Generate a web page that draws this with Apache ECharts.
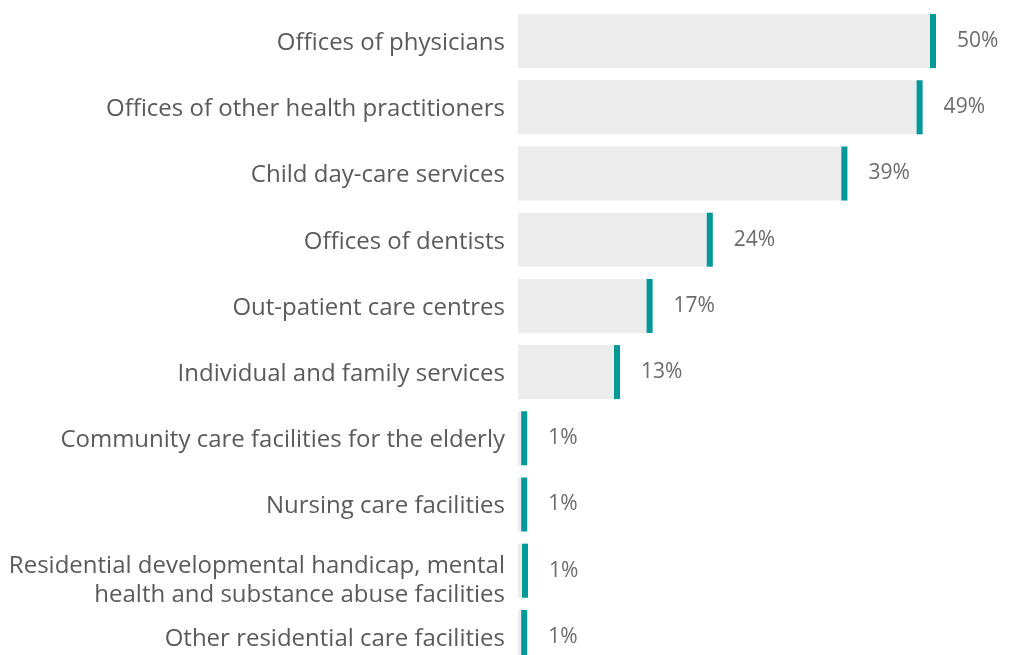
<!DOCTYPE html>
<html>
<head>
<meta charset="utf-8">
<script src="https://cdn.jsdelivr.net/npm/echarts@6/dist/echarts.min.js"></script>
<style>
  html, body { margin: 0; padding: 0; background: #fff; }
  #chart { width: 1010px; height: 655px; }
</style>
</head>
<body>
<div id="chart"></div>
<script>
// categories, top to bottom
const categories = [
  "Offices of physicians",
  "Offices of other health practitioners",
  "Child day-care services",
  "Offices of dentists",
  "Out-patient care centres",
  "Individual and family services",
  "Community care facilities for the elderly",
  "Nursing care facilities",
  "Residential developmental handicap, mental\nhealth and substance abuse facilities",
  "Other residential care facilities"
];
// bar lengths (%)
const values = [50, 48.4, 39.4, 23.3, 16.1, 12.2, 1.1, 1.1, 1.2, 1.1];
// printed labels
const valueLabels = ["50%", "49%", "39%", "24%", "17%", "13%", "1%", "1%", "1%", "1%"];

const myChart = echarts.init(document.getElementById("chart"));

const catText = {
  fontFamily: "Open Sans",
  fontSize: 24,
  lineHeight: 29,
  color: "#5a5a5a"
};

let option = {
  animation: false,
  grid: {
    left: 518,
    top: 8,
    width: 836,
    height: 662,
    outerBoundsMode: "none"
  },
  xAxis: {
    type: "value",
    min: 0,
    max: 100,
    show: false
  },
  yAxis: {
    type: "category",
    inverse: true,
    data: categories,
    axisLine: { show: false },
    axisTick: { show: false },
    splitLine: { show: false },
    axisLabel: {
      margin: 13,
      ...catText,
      align: "right",
      formatter: v => {
        let lines = v.split("\n");
        if (lines.length == 1) {
          return "{s|" + v + "}";
        }
        // two-line label sits a bit lower in the original
        return lines.map(l => "{m|" + l + "}").join("\n");
      },
      rich: {
        s: { ...catText, padding: [4, 0, 0, 0] },
        m: { ...catText, padding: [20, 0, 0, 0] }
      }
    }
  },
  series: [
    {
      // grey bar
      type: "bar",
      data: values,
      barWidth: 54,
      itemStyle: { color: "#ececec" },
      label: {
        show: true,
        position: "right",
        distance: 21,
        fontFamily: "Open Sans",
        fontSize: 21,
        color: "#6b6b6b",
        formatter: p => valueLabels[p.dataIndex]
      }
    },
    {
      // teal end marker
      type: "scatter",
      data: values,
      z: 3,
      symbol: "rect",
      symbolSize: [6, 54],
      symbolOffset: [-3, 0],
      itemStyle: { color: "#009999", opacity: 1 },
      silent: true
    }
  ]
};

myChart.setOption(option);
window.addEventListener("resize", () => {
  myChart.resize();
});
</script>
</body>
</html>
